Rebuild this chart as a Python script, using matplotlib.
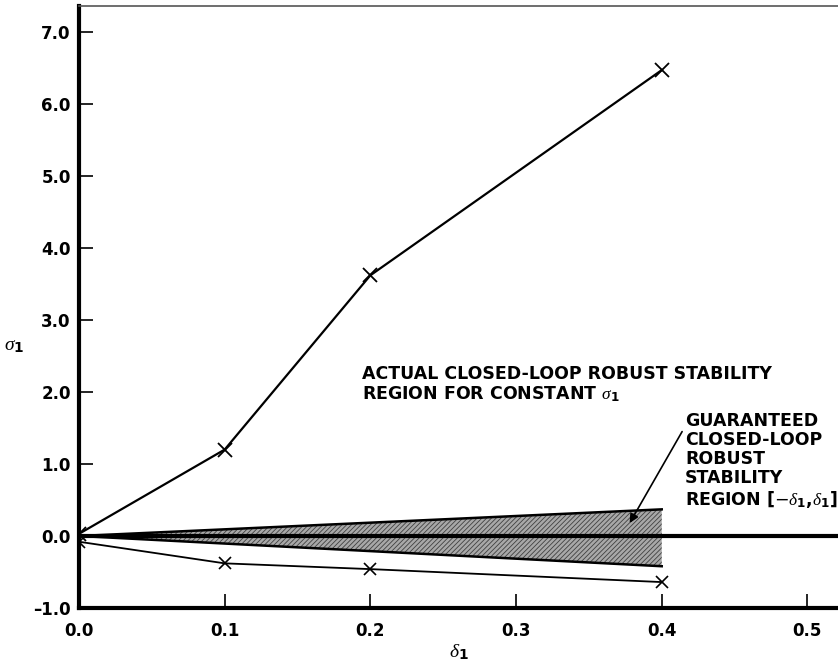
import numpy as np
import matplotlib
matplotlib.use("Agg")
import matplotlib.pyplot as plt

plt.rcParams['font.family'] = ['DejaVu Sans']
plt.rcParams['mathtext.fontset'] = 'custom'
plt.rcParams['mathtext.rm'] = 'DejaVu Sans'
plt.rcParams['mathtext.it'] = 'Liberation Serif:italic'
plt.rcParams['mathtext.bf'] = 'DejaVu Sans:bold'
plt.rcParams['hatch.color'] = '#404040'
plt.rcParams['hatch.linewidth'] = 0.6

# data
delta = [0.0, 0.1, 0.2, 0.4]
sigma_upper = [0.03, 1.2, 3.62, 6.47]
sigma_lower = [-0.08, -0.38, -0.46, -0.64]

fan_delta = [0.0, 0.4]
fan_top = [0.0, 0.37]
fan_bottom = [0.0, -0.42]

xticks = [0.0, 0.1, 0.2, 0.3, 0.4, 0.5]
yticks = [-1.0, 0.0, 1.0, 2.0, 3.0, 4.0, 5.0, 6.0, 7.0]

fig = plt.figure(figsize=(8.38, 6.67), dpi=100)
ax = fig.add_axes([79 / 838, 59 / 667, 1 - 79 / 838, (608 - 6) / 667])

# guaranteed region (shaded fan)
ax.fill_between(fan_delta, fan_bottom, fan_top, facecolor='#a8a8a8',
                edgecolor='#404040', hatch='///////', linewidth=0)
ax.plot(fan_delta, fan_top, color='black', lw=1.8)
ax.plot(fan_delta, fan_bottom, color='black', lw=1.8)
ax.axhline(0, color='black', lw=3)

# actual stability boundary
ax.plot(delta, sigma_upper, color='black', lw=1.6, marker='x', ms=10, mew=1.3)
ax.plot(delta, sigma_lower, color='black', lw=1.3, marker='x', ms=9, mew=1.2)

ax.set_xlim(0, 0.521)
ax.set_ylim(-1.0, 7.36)
ax.set_xticks(xticks)
ax.set_xticklabels(['%.1f' % v for v in xticks])
ax.set_yticks(yticks)
ax.set_yticklabels([('%.1f' % v).replace('-', '\u2013') for v in yticks])
ax.tick_params(direction='in', length=10, width=1.2, labelsize=12)
ax.tick_params(axis='x', pad=10)
ax.tick_params(axis='y', pad=6)
for lab in ax.get_xticklabels() + ax.get_yticklabels():
    lab.set_fontweight('bold')

ax.spines['right'].set_visible(False)
ax.spines['left'].set_linewidth(3)
ax.spines['bottom'].set_linewidth(3)
ax.spines['top'].set_linewidth(1.2)
ax.spines['top'].set_color('#555555')

ax.set_xlabel(r'$\delta_\mathbf{1}$', fontsize=14, labelpad=2)
ax.set_ylabel(r'$\sigma_\mathbf{1}$', fontsize=14, rotation=0, labelpad=0)
ax.yaxis.set_label_coords(-0.085, 0.42)

ax.text(0.194, 2.37, 'ACTUAL CLOSED-LOOP ROBUST STABILITY\nREGION FOR CONSTANT $\\sigma_\\mathbf{1}$',
        fontsize=12.5, fontweight='bold', va='top', ha='left', linespacing=1.08)
ax.text(0.416, 1.72, 'GUARANTEED\nCLOSED-LOOP\nROBUST\nSTABILITY\nREGION [$-\\delta_\\mathbf{1}$,$\\delta_\\mathbf{1}$]',
        fontsize=12.5, fontweight='bold', va='top', ha='left', linespacing=1.08)
ax.annotate('', xy=(0.378, 0.18), xytext=(0.414, 1.45),
            arrowprops=dict(arrowstyle='-|>', color='black', lw=1.2,
                            mutation_scale=13, shrinkA=0, shrinkB=0))

fig.savefig('out.png', dpi=100)
